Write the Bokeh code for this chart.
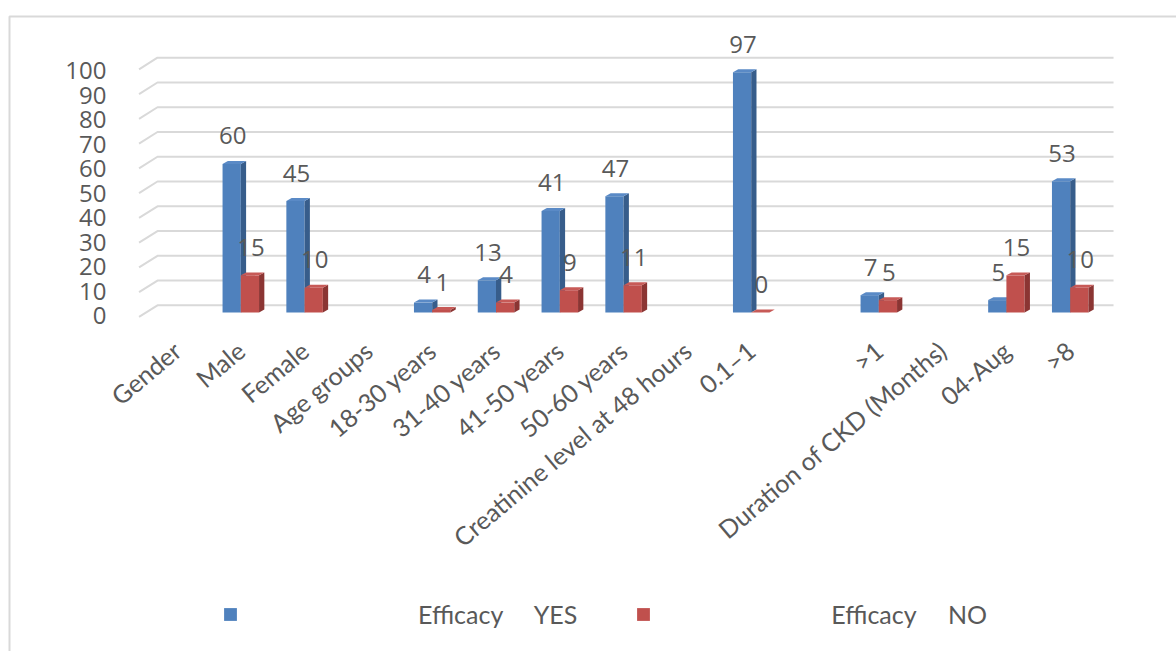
from bokeh.plotting import figure
from bokeh.models import (Range1d, LinearAxis, FixedTicker, ColumnDataSource,
                          Legend, LegendItem)
from bokeh.core.properties import value
from bokeh.embed import file_html
from bokeh.resources import INLINE

# ---------------- data ----------------
categories = ["Gender", "Male", "Female", "Age groups", "18-30 years", "31-40 years",
              "41-50 years", "50-60 years", "Creatinine level at 48 hours", "0.1\u20131",
              "", ">1", "Duration of CKD (Months)", "04-Aug", ">8"]
efficacy_yes = [None, 60, 45, None, 4, 13, 41, 47, None, 97, None, 7, None, 5, 53]
efficacy_no = [None, 15, 10, None, 1, 4, 9, 11, None, 0, None, 5, None, 15, 10]
series_names = ["Efficacy     YES", "Efficacy     NO"]
y_ticks = list(range(0, 101, 10))

# ---------------- style / geometry ----------------
W, H = 1176, 651
TXT = "#595959"
GRID = "#d9d9d9"
FRONT = ["#4F81BD", "#C0504D"]
SIDE = ["#375D8B", "#8B3533"]
TOP = ["#5A8AC6", "#C75A57"]
BAR_W = 0.286
DX = 0.083   # 3D depth (x units)
DY = 1.2     # 3D depth (y units)

# pixel scale of the category axis and of the value axis
X0_PX, X_STEP = 176.5, 63.8          # centre of first category, px per category
Y0_PX, Y_STEP = 312.0, 2.476         # baseline px, px per unit
LY0_PX, LY_STEP = 315.0, 2.45        # tick-label scale


def dx(px):
    return (px - X0_PX) / X_STEP


def dy(px):
    return (Y0_PX - px) / Y_STEP


n = len(categories)
xs = list(range(n))

p = figure(width=W, height=H, output_backend="svg", toolbar_location=None,
           x_axis_type=None, y_axis_type=None,
           x_range=Range1d(dx(0), dx(W)), y_range=Range1d(dy(H), dy(0)),
           min_border=0)
p.outline_line_color = None
p.background_fill_color = "white"
p.border_fill_color = "white"

# outer chart border (top & left edges visible)
p.line(x=[dx(9), dx(9), dx(W + 10)], y=[dy(H + 10), dy(16), dy(16)],
       line_color=GRID, line_width=2)

# back gridlines with 3D stubs
g_left, g_right, g_front = -0.306, n - 1 + 0.679, -0.595
for t in y_ticks:
    p.line(x=[g_front, g_left, g_right], y=[t - 1.8, t + 2.9, t + 2.9],
           line_color=GRID, line_width=2)

# y axis on its own (label) range, fixed inside the frame
p.extra_y_ranges = {"lab": Range1d((LY0_PX - H) / LY_STEP, LY0_PX / LY_STEP)}
yax = LinearAxis(y_range_name="lab", ticker=FixedTicker(ticks=y_ticks),
                 fixed_location=dx(136))
yax.axis_line_color = None
yax.major_tick_line_color = None
yax.minor_tick_line_color = None
yax.major_label_standoff = 24
yax.major_label_text_font = "Open Sans"
yax.major_label_text_font_size = "24px"
yax.major_label_text_color = TXT
p.add_layout(yax, "left")

# x axis with rotated category labels
xax = LinearAxis(ticker=FixedTicker(ticks=xs), fixed_location=dy(330))
xax.major_label_overrides = {i: c for i, c in enumerate(categories)}
xax.major_label_orientation = 0.70
xax.axis_line_color = None
xax.major_tick_line_color = None
xax.minor_tick_line_color = None
xax.major_label_standoff = 10
xax.major_label_text_font = "Lato"
xax.major_label_text_font_size = "25px"
xax.major_label_text_color = TXT
p.add_layout(xax, "below")

legend_renderers = []
for k, (vals, off) in enumerate([(efficacy_yes, -BAR_W / 2), (efficacy_no, BAR_W / 2)]):
    bx = [i + off for i, v in enumerate(vals) if v is not None]
    bv = [v for v in vals if v is not None]
    front = p.vbar(x=bx, top=bv, bottom=0, width=BAR_W,
                   fill_color=FRONT[k], line_color=None)
    legend_renderers.append(front)
    side_xs, side_ys, top_xs, top_ys = [], [], [], []
    for x, v in zip(bx, bv):
        xl, xr = x - BAR_W / 2, x + BAR_W / 2
        side_xs.append([xr, xr + DX, xr + DX, xr])
        side_ys.append([0, DY, v + DY, v])
        top_xs.append([xl, xr, xr + DX, xl + DX])
        top_ys.append([v, v, v + DY, v + DY])
    p.patches(xs=side_xs, ys=side_ys, fill_color=SIDE[k], line_color=None)
    p.patches(xs=top_xs, ys=top_ys, fill_color=TOP[k], line_color=None)
    src = ColumnDataSource(dict(x=bx, y=bv, t=[str(v) for v in bv]))
    p.text(x="x", y="y", text="t", source=src, text_align="center",
           text_baseline="middle", y_offset=-28, x_offset=1,
           text_font=value("Open Sans"), text_font_size="24px", text_color=TXT)

legend = Legend(items=[LegendItem(label=series_names[i], renderers=[legend_renderers[i]])
                       for i in range(2)],
                orientation="horizontal", location=(222, 22),
                glyph_width=16, glyph_height=16, label_standoff=180, spacing=58,
                padding=0, margin=0, border_line_color=None, background_fill_alpha=0,
                label_text_font="Lato", label_text_font_size="25px",
                label_text_color=TXT)
p.add_layout(legend)

open("out.html", "w").write(file_html(p, INLINE))
